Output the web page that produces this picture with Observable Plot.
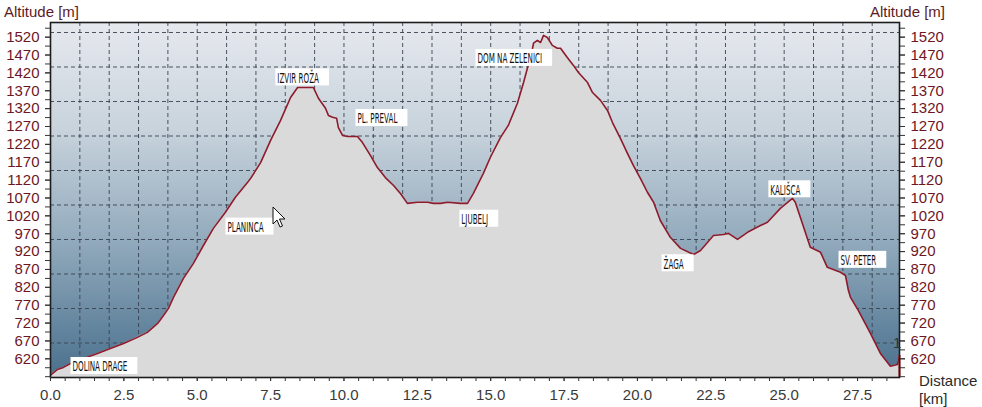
<!DOCTYPE html>
<html>
<head>
<meta charset="utf-8">
<script src="https://cdn.jsdelivr.net/npm/d3@7"></script>
<script src="https://cdn.jsdelivr.net/npm/@observablehq/plot@0.6"></script>
<style>
  html, body { margin: 0; padding: 0; background: #ffffff; }
  #chart svg { display: block; }
</style>
</head>
<body>
<div id="chart"></div>
<script>
// ---- profile data (distance in km, altitude in m) ----
const distanceKm = [0, 0.23, 0.44, 0.68, 1.12, 1.60, 2.04, 2.49, 2.96, 3.30, 3.65, 3.85, 4.02, 4.19, 4.53, 4.87, 5.21, 5.55, 5.96, 6.30, 6.71, 6.82, 7.16, 7.50, 7.84, 8.18, 8.42, 8.96, 9.13, 9.37, 9.47, 9.61, 9.75, 9.81, 9.95, 10.12, 10.46, 10.63, 10.90, 11.14, 11.41, 11.69, 11.93, 12.16, 12.50, 12.85, 13.05, 13.29, 13.53, 13.97, 14.21, 14.31, 14.41, 14.75, 14.99, 15.33, 15.60, 15.91, 16.12, 16.25, 16.35, 16.46, 16.59, 16.70, 16.80, 16.93, 17.10, 17.27, 17.38, 17.61, 17.82, 17.99, 18.30, 18.47, 18.74, 18.98, 19.15, 19.42, 19.66, 19.86, 20.10, 20.34, 20.55, 20.78, 21.12, 21.47, 21.91, 22.15, 22.59, 22.93, 23.10, 23.41, 23.75, 24.19, 24.43, 24.87, 25.28, 25.38, 25.55, 25.89, 26.24, 26.47, 26.92, 27.09, 27.19, 27.26, 27.53, 27.94, 28.28, 28.62, 28.86, 28.93];
const altitudeM = [574, 590, 596, 607, 621, 635, 649, 663, 680, 694, 719, 741, 761, 792, 845, 887, 937, 985, 1030, 1072, 1113, 1125, 1169, 1231, 1287, 1351, 1379, 1379, 1349, 1321, 1301, 1296, 1293, 1267, 1245, 1242, 1242, 1225, 1189, 1155, 1127, 1105, 1082, 1055, 1058, 1058, 1055, 1055, 1058, 1055, 1055, 1069, 1083, 1139, 1184, 1239, 1273, 1335, 1393, 1433, 1458, 1503, 1511, 1505, 1525, 1519, 1497, 1489, 1489, 1463, 1441, 1421, 1393, 1365, 1343, 1315, 1281, 1237, 1195, 1161, 1125, 1086, 1058, 1007, 960, 929, 912, 923, 965, 968, 971, 954, 974, 993, 1002, 1041, 1069, 1058, 1016, 932, 918, 876, 862, 853, 811, 792, 755, 691, 635, 599, 604, 629];

// ---- place labels ----
const placeNames = ["DOLINA DRAGE", "PLANINCA", "IZVIR ROŽA", "PL. PREVAL", "LJUBELJ", "DOM NA ZELENICI", "ŽAGA", "KALIŠCA", "SV. PETER"];
const placeKm    = [0.75, 6.03, 7.73, 10.46, 14.00, 14.55, 20.89, 24.53, 26.92];
const placeAlt   = [598, 988, 1404, 1292, 1010, 1460, 884, 1091, 895];

// ---- axes ----
const yTickLabels = [620, 670, 720, 770, 820, 870, 920, 970, 1020, 1070, 1120, 1170, 1220, 1270, 1320, 1370, 1420, 1470, 1520];
const yMinorTicks = d3.range(570, 1546, 25);
const xTickLabels = [0, 2.5, 5, 7.5, 10, 12.5, 15, 17.5, 20, 22.5, 25, 27.5];
const xMinorTicks = d3.range(0, 28.9, 0.5);
const xGridKm = d3.range(1, 29, 1);
const altMin = 567.7, altMax = 1533, altTop = 1561;
const yGridM = d3.range(1, 11).map(k => altMin + k * (altMax - altMin) / 10);

const profile = distanceKm.map((d, i) => ({d, alt: altitudeM[i]}));
const places = placeNames.map((name, i) => ({name, d: placeKm[i], alt: placeAlt[i]}));
const lastPoint = profile[profile.length - 1];

const redLine = "#8e1b2c";
const darkRed = "#6e1626";

const chart = Plot.plot({
  width: 982,
  height: 407,
  marginLeft: 50,
  marginRight: 83,
  marginTop: 22,
  marginBottom: 30,
  style: {fontFamily: "'Liberation Sans', Arial, sans-serif", fontSize: "15px", background: "#ffffff"},
  x: {domain: [0, 28.93]},
  y: {domain: [altMin, altTop]},
  marks: [
    Plot.frame({fill: "url(#bgGrad)", stroke: null}),
    Plot.ruleX(xGridKm, {stroke: "#3a4350", strokeWidth: 1, strokeDasharray: "4,3", strokeOpacity: 0.9}),
    Plot.ruleY(yGridM, {stroke: "#3a4350", strokeWidth: 1, strokeDasharray: "4,3", strokeOpacity: 0.9}),
    Plot.areaY(profile, {x: "d", y1: () => altMin, y2: "alt", fill: "#dadada", curve: "linear"}),
    Plot.line(profile, {x: "d", y: "alt", stroke: redLine, strokeWidth: 1.6, curve: "linear"}),
    Plot.ruleX([lastPoint], {x: "d", y1: () => altMin, y2: "alt", stroke: "#c0202a", strokeWidth: 2}),
    Plot.frame({stroke: "#1c1c1c", strokeWidth: 1.6}),
    Plot.axisY(yMinorTicks, {anchor: "left", tickSize: 5, tickFormat: () => "", label: null, stroke: "#333"}),
    Plot.axisY(yMinorTicks, {anchor: "right", tickSize: 5, tickFormat: () => "", label: null, stroke: "#333"}),
    Plot.axisY(yTickLabels, {anchor: "left", tickSize: 5, tickPadding: 6, tickFormat: d3.format("d"), label: null, stroke: "#333", fill: darkRed}),
    Plot.axisY(yTickLabels, {anchor: "right", tickSize: 5, tickPadding: 6, tickFormat: d3.format("d"), label: null, stroke: "#333", fill: darkRed}),
    Plot.axisX(xMinorTicks, {anchor: "bottom", tickSize: 4, tickFormat: () => "", label: null, stroke: "#333"}),
    Plot.axisX(xTickLabels, {anchor: "bottom", tickSize: 4, tickPadding: 8, tickFormat: d3.format(".1f"), label: null, stroke: "#333", fill: "#3a3a3a"}),
    Plot.text(places, {x: "d", y: "alt", text: "name", textAnchor: "start", fill: "#111", fontSize: 13.5, fontFamily: "'DejaVu Sans', sans-serif"})
  ]
});

document.getElementById("chart").append(chart);
const svg = d3.select(chart);

// gradient background
const defs = svg.insert("defs", ":first-child");
const grad = defs.append("linearGradient").attr("id", "bgGrad")
  .attr("x1", 0).attr("y1", 0).attr("x2", 0).attr("y2", 1);
[[0, "#e6e9ee"], [0.3, "#c8d3dc"], [0.6, "#94acbe"], [1, "#4a708d"]].forEach(([o, c]) =>
  grad.append("stop").attr("offset", o).attr("stop-color", c));

// label boxes (white) with condensed text
const names = new Set(placeNames);
svg.selectAll("text").filter(function() { return names.has(this.textContent); }).each(function() {
  const t = this;
  const w = t.getComputedTextLength();
  const tw = w * 0.53;
  t.setAttribute("textLength", tw);
  t.setAttribute("lengthAdjust", "spacingAndGlyphs");
  const b = t.getBBox();
  const cy = b.y + b.height / 2 - 0.5;
  const r = document.createElementNS("http://www.w3.org/2000/svg", "rect");
  r.setAttribute("x", b.x - 2);
  r.setAttribute("y", cy - 8.5);
  r.setAttribute("width", tw + 12);
  r.setAttribute("height", 17);
  r.setAttribute("fill", "#ffffff");
  if (t.getAttribute("transform")) r.setAttribute("transform", t.getAttribute("transform"));
  t.parentNode.insertBefore(r, t);
});

// axis titles
const font = "'Liberation Sans', Arial, sans-serif";
const addText = (x, y, s, fill, anchor) => svg.append("text")
  .attr("x", x).attr("y", y).attr("fill", fill).attr("font-family", font)
  .attr("font-size", 15).attr("text-anchor", anchor || "start").text(s);
addText(4, 17, "Altitude [m]", "#5e1a1e");
addText(945, 17, "Altitude [m]", "#5e1a1e", "end");
addText(919, 386, "Distance", "#2a2a2a");
addText(919, 404, "[km]", "#2a2a2a");
addText(893, 348, "1", "#333");

// mouse pointer seen in the screenshot
svg.append("path")
  .attr("d", "M273,207 v17 l4,-4 l3,7 l2.5,-1 l-3,-7 h5.5 z")
  .attr("fill", "#ffffff").attr("stroke", "#111").attr("stroke-width", 1);
</script>
</body>
</html>
